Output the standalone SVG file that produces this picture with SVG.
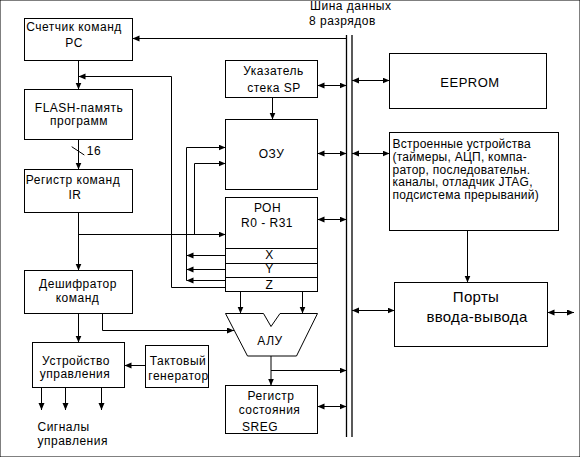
<svg xmlns="http://www.w3.org/2000/svg" width="580" height="457" viewBox="0 0 580 457">
<style>
rect,polygon{fill:#fff;stroke:#000;stroke-width:1}
.c path,.c line{fill:none;stroke:#000;stroke-width:1}
.a{marker-end:url(#ah)}
.d{marker-start:url(#ah);marker-end:url(#ah)}
text{font-family:"Liberation Sans",Arial,sans-serif;font-size:12px;letter-spacing:0.5px;fill:#000;text-anchor:middle}
.l{text-anchor:start}
.p{letter-spacing:0.25px}
.big{font-size:15px;letter-spacing:0.3px}
.bus{stroke:#000;stroke-width:1.3;fill:none}
</style>
<defs>
<marker id="ah" markerUnits="userSpaceOnUse" markerWidth="8" markerHeight="7" refX="7" refY="3" orient="auto-start-reverse">
<path d="M0,0 L7,3 L0,6 z" fill="#000"/>
</marker>
</defs>
<rect x="0" y="0" width="580" height="457" fill="#fff" stroke="none"/>

<g id="bus">
<line class="bus" x1="346.5" y1="35" x2="346.5" y2="437"/>
<line class="bus" x1="352" y1="35" x2="352" y2="437"/>
<text class="l" x="310" y="10">Шина данных</text>
<text class="l" x="309" y="25">8 разрядов</text>
</g>

<g id="pc"><rect x="24.5" y="18.5" width="108" height="42"/>
<text x="74" y="31">Счетчик команд</text><text x="74" y="47">PC</text></g>

<g id="flash"><rect x="24.5" y="89.5" width="108" height="50"/>
<text x="79" y="111.5">FLASH-память</text><text x="79" y="124.5">программ</text></g>

<g id="ir"><rect x="24.5" y="169.5" width="108" height="43"/>
<text x="73" y="184">Регистр команд</text><text x="75" y="199">IR</text></g>

<g id="decoder"><rect x="24.5" y="270.5" width="108" height="43"/>
<text x="78" y="288">Дешифратор</text><text x="77.5" y="302">команд</text></g>

<g id="control"><rect x="32.5" y="342.5" width="92" height="45"/>
<text x="76" y="364.5">Устройство</text><text x="75" y="377.5">управления</text></g>

<g id="clock"><rect x="145.5" y="345.5" width="63" height="42"/>
<text x="178" y="365">Тактовый</text><text x="178.5" y="380">генератор</text></g>

<g id="signals"><text class="l" x="37.5" y="431">Сигналы</text><text class="l" x="37.5" y="445">управления</text></g>

<g id="sp"><rect x="225.5" y="60.5" width="92" height="37"/>
<text x="273.5" y="75">Указатель</text><text x="274" y="91.5">стека SP</text></g>

<g id="ram"><rect x="225.5" y="119.5" width="92" height="70"/>
<text x="271.5" y="158">ОЗУ</text></g>

<g id="regs"><rect x="225.5" y="197.5" width="92" height="94"/>
<line x1="225.5" y1="248.5" x2="317.5" y2="248.5" stroke="#000"/>
<line x1="225.5" y1="263.5" x2="317.5" y2="263.5" stroke="#000"/>
<line x1="225.5" y1="277.5" x2="317.5" y2="277.5" stroke="#000"/>
<text x="267.5" y="212">РОН</text><text x="267" y="226.5">R0 - R31</text>
<text x="269.5" y="259">X</text><text x="269.5" y="273">Y</text><text x="269.5" y="289">Z</text></g>

<g id="alu"><polygon points="225.5,313.5 263.5,313.5 271,326.5 280,313.5 317.5,313.5 296.5,356 247.5,356"/>
<text x="270" y="345">АЛУ</text></g>

<g id="sreg"><rect x="225.5" y="385.5" width="92" height="48"/>
<text x="271" y="400">Регистр</text><text x="269.5" y="414">состояния</text><text x="260" y="430.5">SREG</text></g>

<g id="eeprom"><rect x="389.5" y="53.5" width="157" height="55"/>
<text x="470" y="86.5" style="font-size:13px">EEPROM</text></g>

<g id="periph"><rect x="389.5" y="132.5" width="169" height="98"/>
<text class="l p" x="392.5" y="148.3">Встроенные устройства</text>
<text class="l p" x="392.5" y="161">(таймеры, АЦП, компа-</text>
<text class="l p" x="392.5" y="173.7">ратор, последовательн.</text>
<text class="l p" x="392.5" y="186.3">каналы, отладчик JTAG,</text>
<text class="l p" x="392.5" y="199">подсистема прерываний)</text></g>

<g id="ports"><rect x="394.5" y="282.5" width="153" height="64"/>
<text class="big" x="476" y="301.5">Порты</text><text class="big" x="477" y="321.5">ввода-вывода</text></g>

<g id="connectors" class="c">
<path class="a" d="M346.5,38.5 H132.5"/>
<path class="a" d="M78.5,60.5 V89.5"/>
<path class="a" d="M225.5,287.5 H171.5 V76.5 H78.5"/>
<path class="a" d="M78.5,139.5 V169.5"/>
<line x1="71.7" y1="146.7" x2="84.3" y2="155"/>
<path class="a" d="M78.5,212.5 V270.5"/>
<path class="a" d="M78.5,234.5 H225.5"/>
<path class="a" d="M194.5,234.5 V163.5 H225.5"/>
<path class="a" d="M225.5,255.5 H186.5"/>
<path class="a" d="M225.5,269.5 H186.5"/>
<path class="a" d="M225.5,280.5 H186.5"/>
<path class="a" d="M186.5,280.5 V147.5 H225.5"/>
<path class="a" d="M272.5,97.5 V119.5"/>
<path class="d" d="M317.5,85.5 H346.5"/>
<path class="d" d="M317.5,153.5 H346.5"/>
<path class="d" d="M317.5,219.5 H346.5"/>
<path class="a" d="M240.5,291.5 V313.5"/>
<path class="a" d="M302.5,291.5 V313.5"/>
<path class="a" d="M102.5,313.5 V330.5 H234"/>
<path class="a" d="M271,356 V385.5"/>
<path class="a" d="M271,370.5 H346.5"/>
<path class="d" d="M317.5,406.5 H346.5"/>
<path class="d" d="M352,80.5 H389.5"/>
<path class="d" d="M352,153.5 H389.5"/>
<path class="a" d="M467.5,230.5 V282.5"/>
<path class="d" d="M352,310.5 H394.5"/>
<path class="d" d="M547.5,312.5 H574"/>
<path class="a" d="M78.5,313.5 V342.5"/>
<path class="a" d="M145.5,365.5 H124.5"/>
<path class="a" d="M41.5,387.5 V410"/>
<path class="a" d="M65.5,387.5 V410"/>
<path class="a" d="M101.5,387.5 V410"/>
</g>
<text x="94" y="155">16</text>
</svg>
